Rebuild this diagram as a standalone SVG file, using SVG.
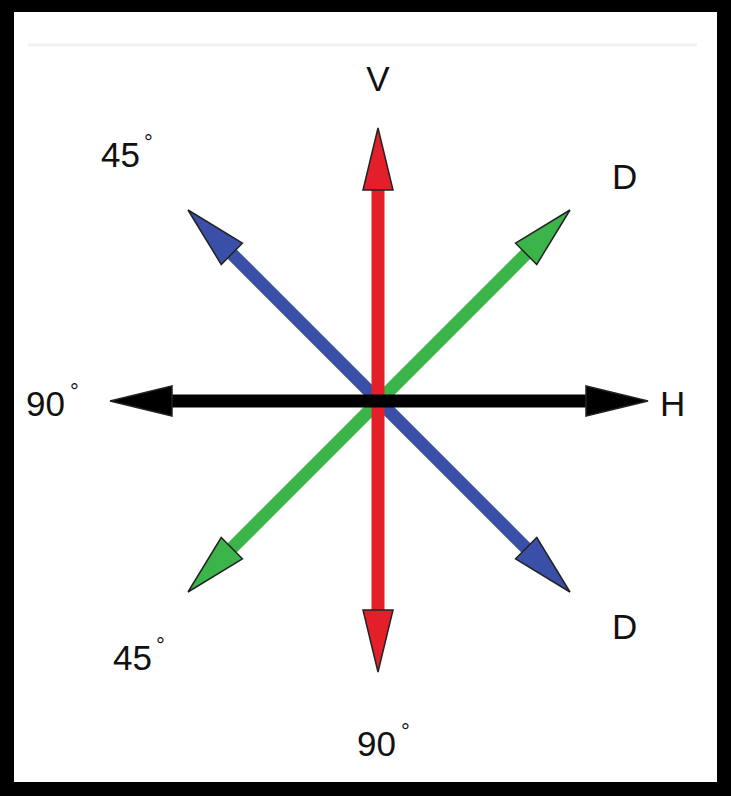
<svg xmlns="http://www.w3.org/2000/svg" width="731" height="796" viewBox="0 0 731 796">
<style>
.lbl{font-family:"Liberation Sans",Arial,sans-serif;font-size:35px;fill:#111}
.deg{font-family:"Liberation Sans",Arial,sans-serif;font-size:22px;fill:#111}
.shaft{stroke-width:13;stroke-linecap:butt}
.head{stroke:#222;stroke-width:1.5;stroke-linejoin:miter}
</style>
<defs>
<path id="head" d="M0,0 L-62,-15 L-62,15 Z"/>
</defs>
<rect x="0" y="0" width="731" height="796" fill="#000"/>
<rect x="14" y="12" width="703" height="770" fill="#fff"/>
<line x1="28" y1="45" x2="697" y2="45" stroke="#f2f2f2" stroke-width="3"/>
<g id="connectors">
<g id="arrow-diag-green" fill="#3bb54a">
<line class="shaft" x1="230" y1="550" x2="528" y2="252" stroke="#3bb54a"/>
<use href="#head" class="head" transform="translate(570,210) rotate(-45)"/>
<use href="#head" class="head" transform="translate(188,592) rotate(135)"/>
</g>
<g id="arrow-diag-blue" fill="#3a4fa8">
<line class="shaft" x1="230" y1="252" x2="528" y2="550" stroke="#3a4fa8"/>
<use href="#head" class="head" transform="translate(188,210) rotate(-135)"/>
<use href="#head" class="head" transform="translate(570,592) rotate(45)"/>
</g>
<g id="arrow-vertical-red" fill="#e3202a">
<line class="shaft" x1="378" y1="185" x2="378" y2="615" stroke="#e3202a"/>
<use href="#head" class="head" transform="translate(378,128) rotate(-90)"/>
<use href="#head" class="head" transform="translate(378,672) rotate(90)"/>
</g>
<g id="arrow-horizontal-black" fill="#000">
<line class="shaft" x1="165" y1="401" x2="592" y2="401" stroke="#000"/>
<use href="#head" class="head" transform="translate(110,401) rotate(180)"/>
<use href="#head" class="head" transform="translate(648,401)"/>
</g>
</g>
<g id="label-V"><text class="lbl" x="378" y="91" text-anchor="middle">V</text></g>
<g id="label-45-top"><text class="lbl" x="101" y="167">45</text><text class="deg" x="144" y="150">°</text></g>
<g id="label-D-top"><text class="lbl" x="612" y="189">D</text></g>
<g id="label-90-left"><text class="lbl" x="26" y="416">90</text><text class="deg" x="70" y="399">°</text></g>
<g id="label-H"><text class="lbl" x="660" y="416">H</text></g>
<g id="label-D-bottom"><text class="lbl" x="612" y="639">D</text></g>
<g id="label-45-bottom"><text class="lbl" x="113" y="670">45</text><text class="deg" x="156" y="653">°</text></g>
<g id="label-90-bottom"><text class="lbl" x="357" y="756">90</text><text class="deg" x="401" y="739">°</text></g>
</svg>
